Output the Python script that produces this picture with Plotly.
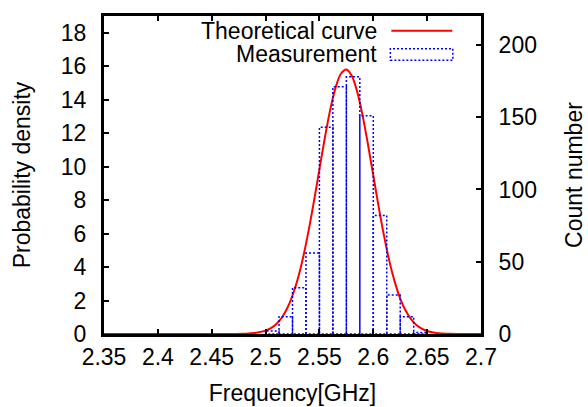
import plotly.graph_objects as go

# ---------------- data ----------------
bin_edges = [2.5, 2.5125, 2.525, 2.5375, 2.55, 2.5625, 2.575, 2.5875,
             2.6, 2.6125, 2.625, 2.6375, 2.65]
counts = [2, 12, 32, 56, 143, 171, 178, 151, 82, 27, 12, 1]

curve_x = [2.35, 2.46, 2.47, 2.48, 2.49, 2.50, 2.505, 2.51, 2.515, 2.52, 2.525,
           2.53, 2.535, 2.54, 2.545, 2.55, 2.555, 2.56, 2.565, 2.57, 2.575,
           2.58, 2.585, 2.59, 2.595, 2.60, 2.605, 2.61, 2.615, 2.62, 2.625,
           2.63, 2.635, 2.64, 2.645, 2.65, 2.66, 2.67, 2.68, 2.70]
curve_y = [0.0, 0.0, 0.003, 0.014, 0.057, 0.20, 0.35, 0.60, 0.97, 1.52, 2.30,
           3.32, 4.62, 6.19, 7.96, 9.85, 11.71, 13.39, 14.72, 15.55, 15.80,
           15.43, 14.49, 13.08, 11.35, 9.47, 7.60, 5.86, 4.34, 3.10, 2.12,
           1.40, 0.89, 0.54, 0.32, 0.18, 0.05, 0.012, 0.0, 0.0]

x_ticks = [2.35, 2.4, 2.45, 2.5, 2.55, 2.6, 2.65, 2.7]
x_tick_labels = ["2.35", "2.4", "2.45", "2.5", "2.55", "2.6", "2.65", "2.7"]
y_ticks = [0, 2, 4, 6, 8, 10, 12, 14, 16, 18]
y2_ticks = [0, 50, 100, 150, 200]

series_names = ["Theoretical curve", "Measurement"]

# ---------------- figure ----------------
FONT = "Liberation Sans, Arial, Helvetica, sans-serif"
FS = 23

# histogram outline boxes (built from bin edges and counts)
hx, hy = [], []
for i, c in enumerate(counts):
    l, r = bin_edges[i], bin_edges[i + 1]
    hx += [l, l, r, r, l, None]
    hy += [0, c, c, 0, 0, None]

fig = go.Figure()
fig.add_trace(go.Scatter(
    x=hx, y=hy, yaxis="y2", mode="lines", name=series_names[1],
    line=dict(color="#0000ff", width=1.5, dash="2px,2px"),
    showlegend=False, hoverinfo="skip"))
fig.add_trace(go.Scatter(
    x=curve_x, y=curve_y, mode="lines", name=series_names[0],
    line=dict(color="#ff0000", width=2, shape="spline"),
    showlegend=False))

axis_common = dict(showgrid=False, zeroline=False, showline=True,
                   linecolor="black", linewidth=3, ticks="inside",
                   ticklen=5, tickwidth=2, tickcolor="black",
                   tickfont=dict(family=FONT, size=FS, color="black"))

fig.update_layout(
    width=588, height=407,
    margin=dict(l=103.8, r=106.5, t=15.5, b=72.5, autoexpand=False),
    paper_bgcolor="white", plot_bgcolor="white",
    font=dict(family=FONT, size=FS, color="black"),
    showlegend=False,
    xaxis=dict(range=[2.35, 2.7], tickvals=x_ticks, ticktext=x_tick_labels,
               mirror="ticks", ticklabelstandoff=0,
               title=dict(text="Frequency[GHz]", standoff=17,
                          font=dict(family=FONT, size=FS)),
               **axis_common),
    yaxis=dict(range=[0, 19], tickvals=y_ticks, ticklabelstandoff=10,
               title=dict(text="Probability density", standoff=24,
                          font=dict(family=FONT, size=FS)),
               **axis_common),
    yaxis2=dict(range=[0, 220], tickvals=y2_ticks, overlaying="y",
                side="right", ticklabelstandoff=10,
                title=dict(text="Count number", standoff=30,
                           font=dict(family=FONT, size=FS)),
                **axis_common),
)

# legend drawn gnuplot-style: text right-aligned, sample to the right
fig.add_annotation(xref="paper", yref="paper", x=0.7286, y=0.953,
                   text=series_names[0], showarrow=False,
                   xanchor="right", yanchor="middle",
                   font=dict(family=FONT, size=FS, color="black"))
fig.add_annotation(xref="paper", yref="paper", x=0.7286, y=0.881,
                   text=series_names[1], showarrow=False,
                   xanchor="right", yanchor="middle",
                   font=dict(family=FONT, size=FS, color="black"))
fig.add_shape(type="line", xref="paper", yref="paper",
              x0=0.7622, x1=0.9238, y0=0.9536, y1=0.9536,
              line=dict(color="#ff0000", width=2))
fig.add_shape(type="rect", xref="paper", yref="paper",
              x0=0.7596, x1=0.9253, y0=0.8605, y1=0.8972,
              line=dict(color="#0000ff", width=1.5, dash="2px,2px"),
              fillcolor="rgba(0,0,0,0)")

fig.write_html("out.html",
               config={"displayModeBar": False},
               post_script="document.body.style.margin='0';")
